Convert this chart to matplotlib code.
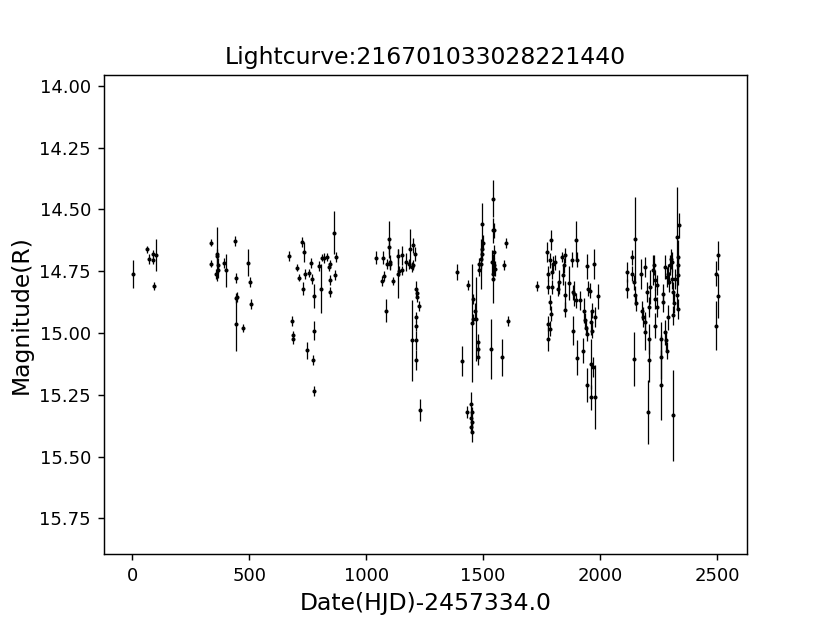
import numpy as np
import matplotlib
matplotlib.use('Agg')
import matplotlib.pyplot as plt

hjd = [3, 64, 73, 88, 90, 100, 91,
       335, 336, 362, 364, 365, 367, 360, 394, 400, 437, 445, 447, 443, 443, 474, 493, 504, 509,
       671, 682, 687, 687, 704, 711, 725, 732, 729, 737, 747, 755, 766, 768, 775, 775, 771, 778,
       800, 808, 811, 821, 832, 839, 846, 846, 846, 863, 869, 865,
       1041, 1070, 1067, 1074, 1084, 1088, 1096, 1098, 1100, 1103, 1113, 1134, 1136, 1141, 1153,
       1155, 1170, 1184, 1188, 1195, 1202, 1207, 1202, 1195, 1213, 1217, 1219, 1224, 1213, 1214,
       1214, 1214, 1232,
       1388, 1409, 1433, 1450, 1451, 1450, 1452, 1450, 1451, 1437, 1456, 1456, 1454, 1466, 1470,
       1477, 1480, 1480, 1484, 1484, 1496, 1498, 1496, 1494, 1492, 1490, 1533, 1537, 1540, 1541,
       1548, 1548, 1541, 1548, 1550, 1543, 1580, 1590, 1598, 1606,
       1732, 1772, 1779, 1779, 1779, 1779, 1784, 1787, 1787, 1790, 1791, 1794, 1794, 1798, 1808,
       1818, 1826, 1837, 1841, 1844, 1848, 1851, 1848, 1869, 1879, 1882, 1883, 1890, 1896, 1900,
       1896, 1903, 1915, 1925, 1933, 1936, 1940, 1943, 1946, 1946, 1950, 1957, 1962, 1967, 1960,
       1965, 1972, 1969, 1960, 1979, 1979, 1993,
       2117, 2117, 2138, 2138, 2143, 2150, 2150, 2145, 2153, 2175, 2178, 2185, 2190, 2193, 2193,
       2200, 2203, 2207, 2207, 2211, 2214, 2224, 2229, 2233, 2236, 2236, 2243, 2243, 2260, 2261,
       2261, 2267, 2271, 2276, 2281, 2285, 2278, 2285, 2289, 2292, 2295, 2299, 2303, 2306, 2309,
       2313, 2313, 2313, 2317, 2320, 2327, 2330, 2331, 2334, 2334, 2334, 2337,
       2503, 2495, 2502, 2495]

mag = [14.76, 14.662, 14.70, 14.68, 14.706, 14.683, 14.81,
       14.635, 14.72, 14.68, 14.69, 14.726, 14.746, 14.76, 14.717, 14.747, 14.628, 14.776, 14.855,
       14.86, 14.963, 14.98, 14.716, 14.795, 14.883,
       14.69, 14.95, 15.01, 15.025, 14.736, 14.776, 14.632, 14.672, 14.82, 14.76, 15.07, 14.757,
       14.716, 14.783, 14.85, 14.99, 15.11, 15.236,
       14.73, 14.82, 14.695, 14.695, 14.692, 14.733, 14.72, 14.787, 14.835, 14.594, 14.693, 14.767,
       14.695, 14.695, 14.79, 14.77, 14.909, 14.72, 14.62, 14.652, 14.713, 14.72, 14.79, 14.69,
       14.76, 14.75, 14.686, 14.747, 14.713, 14.72, 14.658, 14.733, 14.645, 14.68, 14.726, 15.03,
       14.82, 14.84, 14.855, 14.89, 14.936, 14.97, 15.03, 15.11, 15.31,
       14.753, 15.112, 15.32, 15.287, 15.321, 15.342, 15.362, 15.382, 15.40, 14.807, 14.861,
       14.943, 14.96, 14.909, 14.943, 15.037, 15.064, 15.098, 14.746, 14.72, 14.56, 14.635, 14.66,
       14.68, 14.70, 14.72, 15.065, 14.713, 14.456, 14.585, 14.585, 14.672, 14.78, 14.726, 14.74,
       14.76, 15.098, 14.723, 14.636, 14.95,
       14.81, 14.672, 14.76, 14.814, 14.963, 15.024, 14.983, 14.875, 14.706, 14.625, 14.922,
       14.814, 14.753, 14.72, 14.713, 14.82, 14.794, 14.693, 14.767, 14.726, 14.848, 14.906,
       14.686, 14.798, 14.703, 14.835, 14.99, 14.841, 14.625, 14.703, 14.868, 15.10, 14.868,
       15.071, 14.909, 14.949, 14.98, 15.003, 14.73, 15.21, 14.82, 14.828, 14.956, 14.909, 15.125,
       14.99, 14.72, 15.139, 15.26, 15.26, 14.936, 14.852,
       14.753, 14.82, 14.693, 14.76, 15.105, 14.62, 14.848, 14.794, 14.88, 14.76, 14.909, 14.936,
       14.956, 14.733, 14.997, 14.835, 15.32, 15.024, 15.11, 14.895, 14.814, 14.746, 14.726,
       14.787, 14.861, 14.97, 14.807, 14.895, 15.024, 15.098, 15.21, 14.841, 14.875, 14.997,
       15.03, 15.071, 14.733, 14.774, 14.76, 14.936, 14.794, 14.726, 14.699, 14.78, 14.713,
       14.835, 14.929, 15.333, 14.88, 14.78, 14.848, 14.611, 14.693, 14.726, 14.767, 14.902,
       14.564,
       14.686, 14.76, 14.85, 14.97]

mag_err = [0.056, 0.014, 0.02, 0.016, 0.015, 0.065, 0.015,
           0.014, 0.014, 0.11, 0.03, 0.03, 0.03, 0.02, 0.02, 0.066, 0.02, 0.02, 0.02, 0.02, 0.11,
           0.015, 0.054, 0.02, 0.02,
           0.02, 0.02, 0.02, 0.02, 0.015, 0.015, 0.02, 0.04, 0.025, 0.02, 0.035, 0.015, 0.02, 0.02,
           0.05, 0.04, 0.02, 0.02,
           0.02, 0.1, 0.015, 0.02, 0.015, 0.015, 0.015, 0.02, 0.02, 0.088, 0.02, 0.02,
           0.025, 0.025, 0.02, 0.02, 0.045, 0.02, 0.075, 0.03, 0.03, 0.02, 0.015, 0.03, 0.1, 0.02,
           0.04, 0.02, 0.035, 0.02, 0.08, 0.02, 0.03, 0.03, 0.02, 0.165, 0.03, 0.02, 0.02, 0.02,
           0.02, 0.02, 0.04, 0.04, 0.045,
           0.034, 0.06, 0.025, 0.05, 0.02, 0.02, 0.02, 0.02, 0.04, 0.02, 0.02, 0.02, 0.24, 0.03,
           0.17, 0.035, 0.03, 0.03, 0.025, 0.025, 0.085, 0.03, 0.03, 0.03, 0.04, 0.1, 0.12, 0.05,
           0.074, 0.05, 0.03, 0.03, 0.1, 0.03, 0.03, 0.03, 0.075, 0.02, 0.02, 0.02,
           0.02, 0.04, 0.03, 0.03, 0.03, 0.05, 0.03, 0.03, 0.03, 0.04, 0.03, 0.03, 0.03, 0.03, 0.03,
           0.03, 0.05, 0.02, 0.04, 0.03, 0.06, 0.03, 0.03, 0.07, 0.03, 0.03, 0.06, 0.05, 0.08, 0.03,
           0.03, 0.07, 0.04, 0.05, 0.05, 0.03, 0.03, 0.03, 0.05, 0.07, 0.03, 0.03, 0.05, 0.03, 0.1,
           0.03, 0.06, 0.04, 0.05, 0.13, 0.04, 0.05,
           0.04, 0.04, 0.03, 0.03, 0.108, 0.17, 0.04, 0.03, 0.03, 0.06, 0.04, 0.04, 0.04, 0.04, 0.07,
           0.04, 0.13, 0.06, 0.09, 0.04, 0.07, 0.06, 0.04, 0.04, 0.04, 0.05, 0.04, 0.04, 0.07, 0.09,
           0.14, 0.04, 0.04, 0.05, 0.04, 0.035, 0.05, 0.04, 0.04, 0.05, 0.04, 0.04, 0.04, 0.04, 0.04,
           0.04, 0.04, 0.185, 0.04, 0.04, 0.06, 0.2, 0.07, 0.04, 0.04, 0.04, 0.05,
           0.06, 0.05, 0.09, 0.1]

source_id = "216701033028221440"

fig, ax = plt.subplots(figsize=(830 / 130, 623 / 130), dpi=130)
ax.errorbar(hjd, mag, yerr=mag_err, fmt='.', color='k', ecolor='k',
            markersize=2.5, elinewidth=0.7, capsize=0)
ax.set_ylim(15.896, 13.955)
ax.set_title(f"Lightcurve:{source_id}", fontsize=13)
ax.set_xlabel("Date(HJD)-2457334.0", fontsize=13)
ax.set_ylabel("Magnitude(R)", fontsize=13)

plt.savefig("out.png", dpi=130)
